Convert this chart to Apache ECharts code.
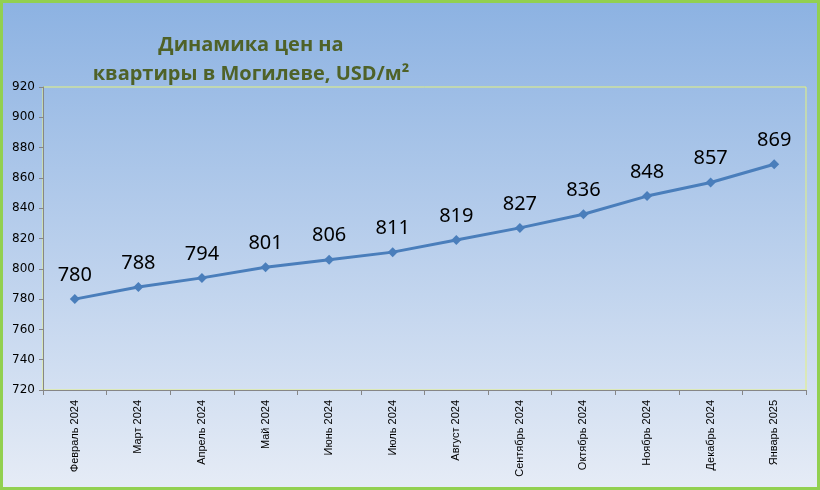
<!DOCTYPE html>
<html>
<head>
<meta charset="utf-8">
<script src="https://cdn.jsdelivr.net/npm/echarts@6/dist/echarts.min.js"></script>
<style>html,body{margin:0;padding:0;}#c{width:820px;height:490px;}</style>
</head>
<body>
<div id="c"></div>
<script>
const categories = ['Февраль 2024','Март 2024','Апрель 2024','Май 2024','Июнь 2024','Июль 2024','Август 2024','Сентябрь 2024','Октябрь 2024','Ноябрь 2024','Декабрь 2024','Январь 2025'];
const prices = [780, 788, 794, 801, 806, 811, 819, 827, 836, 848, 857, 869];
const yMin = 720, yMax = 920, yStep = 20;
const titleText = 'Динамика цен на\nквартиры в Могилеве, USD/м²';

const chart = echarts.init(document.getElementById('c'), null, {renderer:'canvas'});
chart.setOption({
  animation: false,
  backgroundColor: {type:'linear', x:0, y:0, x2:0, y2:1, colorStops:[
    {offset:0, color:'#8cb2e2'}, {offset:1, color:'#e6ecf6'}]},
  title: {
    text: titleText, left: 246, top: 26, textAlign: 'center',
    textStyle: {fontFamily:'Open Sans', fontWeight:'bold', fontSize:20, color:'#4f6228', lineHeight:29, align:'center'}
  },
  graphic: [{type:'rect', shape:{x:1.5, y:1.5, width:817, height:487}, style:{fill:'none', stroke:'#92d050', lineWidth:3}, z:100}],
  grid: {left:43, right:14, top:87, bottom:100, show:true, borderColor:'#e4f27e', borderWidth:1, backgroundColor:'transparent'},
  xAxis: {
    type:'category', data: categories, boundaryGap:true,
    axisLine:{lineStyle:{color:'#868686'}},
    axisTick:{show:true, alignWithLabel:false, length:5, lineStyle:{color:'#868686'}},
    axisLabel:{rotate:90, interval:0, fontFamily:'Liberation Sans', fontSize:11, color:'#000', margin:10}
  },
  yAxis: {
    type:'value', min:yMin, max:yMax, interval:yStep,
    axisLine:{show:true, lineStyle:{color:'#868686'}},
    axisTick:{show:true, length:4, lineStyle:{color:'#868686'}},
    splitLine:{show:false},
    axisLabel:{fontFamily:'DejaVu Sans', fontSize:12, color:'#000', margin:8}
  },
  series: [{
    type:'line', data: prices,
    lineStyle:{color:'#4a7ebb', width:3},
    itemStyle:{color:'#4a7ebb'},
    symbol:'diamond', symbolSize:10,
    label:{show:true, position:'top', distance:9, fontFamily:'Noto Sans', fontSize:20, color:'#000'}
  }]
});
</script>
</body>
</html>
